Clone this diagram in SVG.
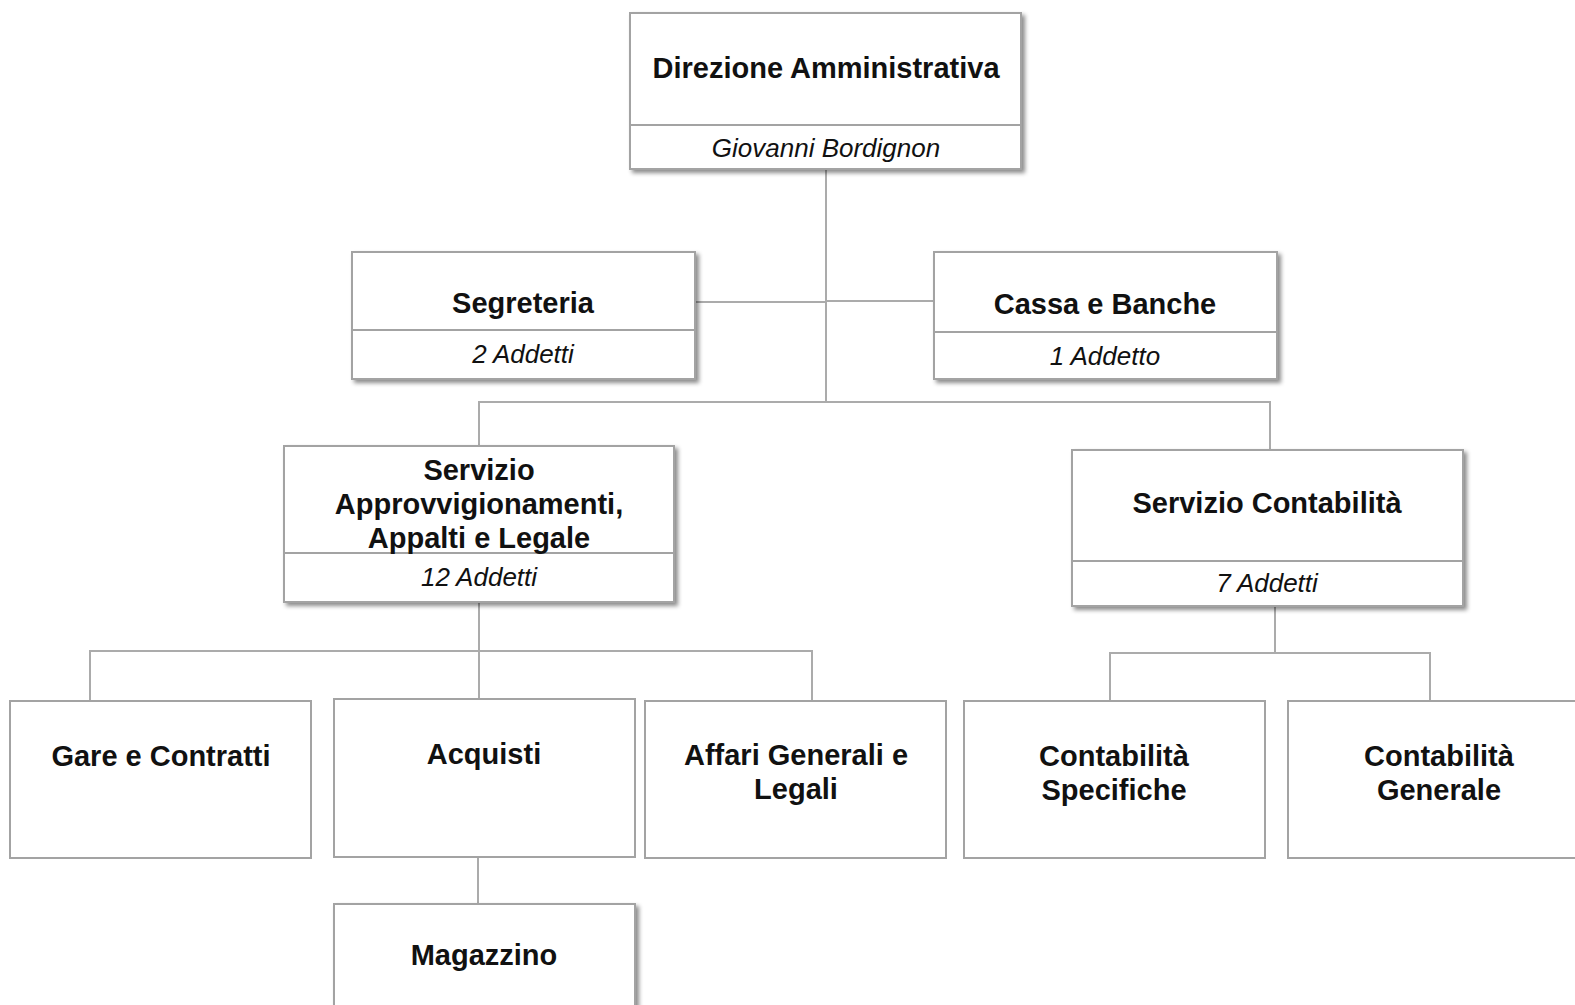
<svg xmlns="http://www.w3.org/2000/svg" width="1575" height="1005" viewBox="0 0 1575 1005">
<defs>
<filter id="sh" x="-5%" y="-5%" width="115%" height="125%">
<feDropShadow dx="3" dy="3" stdDeviation="2" flood-color="#000" flood-opacity="0.45"/>
</filter>
<style>
.box{fill:#fff;stroke:#a3a3a3;stroke-width:2}
.div{stroke:#a3a3a3;stroke-width:2}
.con{fill:none;stroke:#ababab;stroke-width:2}
.t{font-family:"Liberation Sans",Arial,sans-serif;font-weight:bold;font-size:29px;fill:#111;text-anchor:middle}
.s{font-family:"Liberation Sans",Arial,sans-serif;font-style:italic;font-size:26px;fill:#111;text-anchor:middle}
</style>
</defs>
<rect width="1575" height="1005" fill="#fff"/>
<g id="connectors">
<path class="con" d="M826 169V402"/>
<path class="con" d="M695 302H826"/>
<path class="con" d="M826 301H934"/>
<path class="con" d="M479 446V402H1270V450"/>
<path class="con" d="M479 602V651"/>
<path class="con" d="M90 701V651H812V701"/>
<path class="con" d="M479 651V699"/>
<path class="con" d="M478 857V904"/>
<path class="con" d="M1275 606V653"/>
<path class="con" d="M1110 701V653H1430V701"/>
</g>
<g id="direzione">
<rect class="box" filter="url(#sh)" x="630" y="13" width="391" height="156"/>
<line class="div" x1="630" y1="125" x2="1021" y2="125"/>
<text class="t" x="826" y="78">Direzione Amministrativa</text>
<text class="s" x="826" y="157">Giovanni Bordignon</text>
</g>
<g id="segreteria">
<rect class="box" filter="url(#sh)" x="352" y="252" width="343" height="127"/>
<line class="div" x1="352" y1="330" x2="695" y2="330"/>
<text class="t" x="523" y="313">Segreteria</text>
<text class="s" x="523" y="363">2 Addetti</text>
</g>
<g id="cassa">
<rect class="box" filter="url(#sh)" x="934" y="252" width="343" height="127"/>
<line class="div" x1="934" y1="332" x2="1277" y2="332"/>
<text class="t" x="1105" y="314">Cassa e Banche</text>
<text class="s" x="1105" y="365">1 Addetto</text>
</g>
<g id="servizio-approvvigionamenti">
<rect class="box" filter="url(#sh)" x="284" y="446" width="390" height="156"/>
<line class="div" x1="284" y1="553" x2="674" y2="553"/>
<text class="t" x="479" y="480">Servizio</text>
<text class="t" x="479" y="514">Approvvigionamenti,</text>
<text class="t" x="479" y="548">Appalti e Legale</text>
<text class="s" x="479" y="586">12 Addetti</text>
</g>
<g id="servizio-contabilita">
<rect class="box" filter="url(#sh)" x="1072" y="450" width="391" height="156"/>
<line class="div" x1="1072" y1="561" x2="1463" y2="561"/>
<text class="t" x="1267" y="513">Servizio Contabilità</text>
<text class="s" x="1267" y="592">7 Addetti</text>
</g>
<g id="gare">
<rect class="box" x="10" y="701" width="301" height="157"/>
<text class="t" x="161" y="766">Gare e Contratti</text>
</g>
<g id="acquisti">
<rect class="box" x="334" y="699" width="301" height="158"/>
<text class="t" x="484" y="764">Acquisti</text>
</g>
<g id="affari">
<rect class="box" x="645" y="701" width="301" height="157"/>
<text class="t" x="796" y="765">Affari Generali e</text>
<text class="t" x="796" y="799">Legali</text>
</g>
<g id="contabilita-specifiche">
<rect class="box" x="964" y="701" width="301" height="157"/>
<text class="t" x="1114" y="766">Contabilità</text>
<text class="t" x="1114" y="800">Specifiche</text>
</g>
<g id="contabilita-generale">
<rect class="box" x="1288" y="701" width="303" height="157"/>
<text class="t" x="1439" y="766">Contabilità</text>
<text class="t" x="1439" y="800">Generale</text>
</g>
<g id="magazzino">
<rect class="box" filter="url(#sh)" x="334" y="904" width="301" height="150"/>
<text class="t" x="484" y="965">Magazzino</text>
</g>
</svg>
